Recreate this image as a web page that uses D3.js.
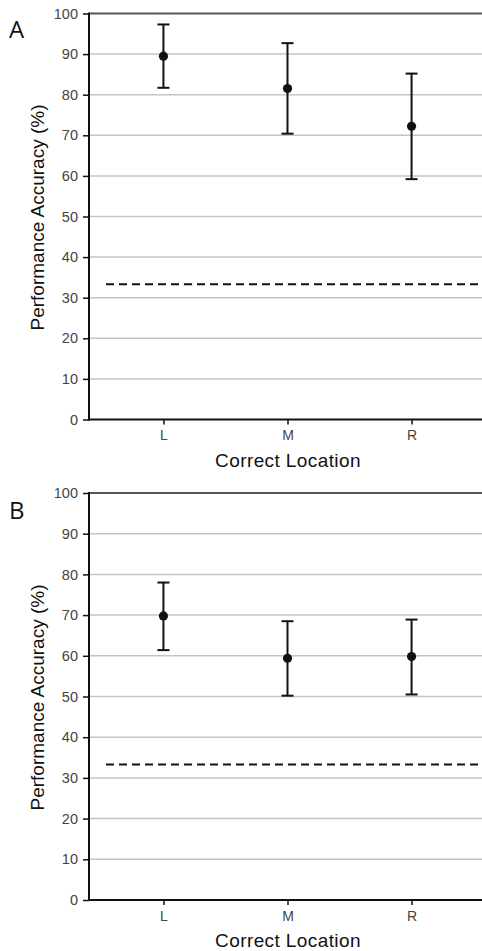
<!DOCTYPE html>
<html><head><meta charset="utf-8">
<script src="https://cdn.jsdelivr.net/npm/d3@7/dist/d3.min.js"></script>
<style>body{margin:0;background:#fff}svg{display:block}</style>
</head><body>
<script>
const categories = ["L", "M", "R"];
const meansA = [89.5, 81.5, 72.2];
const upperA = [97.3, 92.7, 85.2];
const lowerA = [81.7, 70.4, 59.2];
const meansB = [69.8, 59.4, 59.8];
const upperB = [78.0, 68.5, 68.9];
const lowerB = [61.4, 50.2, 50.5];
const chanceLevel = 33.3;
const yTicks = [0, 10, 20, 30, 40, 50, 60, 70, 80, 90, 100];
const panelLabels = ["A", "B"];
const xTitle = "Correct Location";
const yTitle = "Performance Accuracy (%)";

const W = 482, H = 951;
const svg = d3.select("body").append("svg").attr("width", W).attr("height", H);
const font = "'Liberation Sans', Arial, Helvetica, sans-serif";

function panel(label, means, upper, lower, top, bottom, letterY) {
  const g = svg.append("g");
  const x = d3.scalePoint().domain(categories).range([89, 486]).padding(0.6);
  const y = d3.scaleLinear().domain([0, 100]).range([bottom, top]);
  g.selectAll(".grid").data(yTicks.filter(t => t > 0 && t < 100)).enter().append("line")
    .attr("x1", 89).attr("x2", W).attr("y1", d => y(d)).attr("y2", d => y(d))
    .attr("stroke", "#c4c4c4").attr("stroke-width", 1.5);
  g.append("line").attr("x1", 89).attr("x2", W).attr("y1", y(100)).attr("y2", y(100))
    .attr("stroke", "#555").attr("stroke-width", 2);
  g.append("line").attr("x1", 106).attr("x2", 479).attr("y1", y(chanceLevel)).attr("y2", y(chanceLevel))
    .attr("stroke", "#111").attr("stroke-width", 2).attr("stroke-dasharray", "8,5");
  const ya = d3.axisLeft(y).tickValues(yTicks).tickSize(6).tickPadding(5);
  const yg = g.append("g").attr("transform", "translate(89,0)").call(ya);
  yg.select(".domain").remove();
  yg.selectAll(".tick line").attr("stroke", "#111").attr("stroke-width", 1.5);
  yg.selectAll(".tick text").attr("font-family", font).attr("font-size", 14.5).attr("fill", "#444");
  const xa = d3.axisBottom(x).tickSize(5).tickPadding(6);
  const xg = g.append("g").attr("transform", `translate(0,${bottom})`).call(xa);
  xg.select(".domain").remove();
  xg.selectAll(".tick line").attr("stroke", "#111").attr("stroke-width", 1.5);
  xg.selectAll(".tick text").attr("font-family", font).attr("font-size", 14).attr("fill", "#444");
  g.append("line").attr("x1", 89).attr("x2", 89).attr("y1", top - 1).attr("y2", bottom + 1)
    .attr("stroke", "#111").attr("stroke-width", 2);
  g.append("line").attr("x1", 88).attr("x2", W).attr("y1", bottom).attr("y2", bottom)
    .attr("stroke", "#111").attr("stroke-width", 2);
  categories.forEach((c, i) => {
    const cx = x(c);
    g.append("line").attr("x1", cx).attr("x2", cx).attr("y1", y(upper[i])).attr("y2", y(lower[i]))
      .attr("stroke", "#111").attr("stroke-width", 2);
    [upper[i], lower[i]].forEach(v => {
      g.append("line").attr("x1", cx - 6).attr("x2", cx + 6).attr("y1", y(v)).attr("y2", y(v))
        .attr("stroke", "#111").attr("stroke-width", 2);
    });
    g.append("circle").attr("cx", cx).attr("cy", y(means[i])).attr("r", 4.6).attr("fill", "#111");
  });
  g.append("text").attr("x", 288).attr("y", bottom + 47).attr("text-anchor", "middle")
    .attr("font-family", font).attr("font-size", 19).attr("letter-spacing", 0.4).attr("fill", "#111").text(xTitle);
  g.append("text").attr("transform", `translate(44,${(top + bottom) / 2 + 1}) rotate(-90)`)
    .attr("text-anchor", "middle").attr("font-family", font).attr("font-size", 19).attr("fill", "#111").text(yTitle);
  g.append("text").attr("x", 9).attr("y", letterY).attr("font-family", "'Open Sans', 'Noto Sans', sans-serif")
    .attr("font-size", 24).attr("fill", "#111").text(label);
}

panel(panelLabels[0], meansA, upperA, lowerA, 13.5, 419.5, 38);
panel(panelLabels[1], meansB, upperB, lowerB, 493, 900, 519);
</script>
</body></html>
